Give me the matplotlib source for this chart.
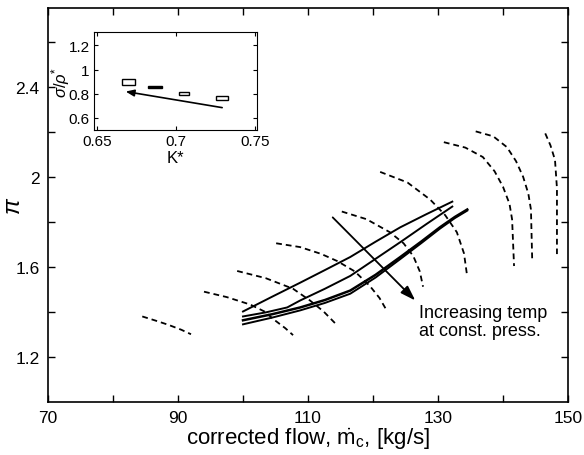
import matplotlib
matplotlib.use("Agg")
import matplotlib.pyplot as plt
from matplotlib.patches import Rectangle

plt.rcParams['font.family'] = ['Liberation Sans', 'DejaVu Sans']
plt.rcParams['mathtext.fontset'] = 'custom'
plt.rcParams['mathtext.rm'] = 'Liberation Sans'
plt.rcParams['mathtext.it'] = 'Liberation Sans:italic'

# ---- main chart data: dashed speed lines (corrected flow, pressure ratio) ----
speed1_x = [84.5, 86.5, 88.5, 90.5, 92.0]
speed1_y = [1.380, 1.362, 1.343, 1.321, 1.301]
speed2_x = [94.0, 97.5, 101.1, 103.3, 104.9, 106.5, 107.7]
speed2_y = [1.490, 1.466, 1.433, 1.402, 1.363, 1.328, 1.297]
speed3_x = [99.1, 103.5, 107.7, 110.3, 112.4, 114.2]
speed3_y = [1.582, 1.550, 1.503, 1.451, 1.402, 1.349]
speed4_x = [105.1, 108.8, 112.0, 114.5, 117.2, 119.5, 121.0, 122.2]
speed4_y = [1.705, 1.688, 1.658, 1.626, 1.580, 1.516, 1.462, 1.402]
speed5_x = [115.2, 119.0, 122.6, 124.7, 126.2, 127.2, 127.7]
speed5_y = [1.846, 1.812, 1.754, 1.705, 1.648, 1.580, 1.512]
speed6_x = [121.1, 125.3, 128.8, 131.1, 132.9, 134.0, 134.5]
speed6_y = [2.022, 1.975, 1.899, 1.830, 1.754, 1.660, 1.556]
speed7_x = [130.9, 134.2, 136.9, 138.7, 140.0, 141.0, 141.4, 141.7]
speed7_y = [2.154, 2.130, 2.088, 2.025, 1.956, 1.880, 1.811, 1.604]
speed8_x = [135.8, 138.5, 140.6, 142.0, 143.1, 143.9, 144.3, 144.5]
speed8_y = [2.202, 2.180, 2.132, 2.070, 2.000, 1.925, 1.855, 1.622]
speed9_x = [146.5, 147.3, 148.0, 148.3, 148.3]
speed9_y = [2.193, 2.140, 2.075, 1.950, 1.657]

# ---- solid operating lines ----
opA_x = [100.0, 104.5, 108.8, 112.6, 116.5, 120.4, 124.2, 128.2, 132.2]
opA_y = [1.402, 1.468, 1.530, 1.586, 1.644, 1.712, 1.776, 1.834, 1.890]
opB_x = [100.0, 103.5, 106.8, 108.8, 112.6, 116.5, 120.4, 124.2, 128.2, 132.2]
opB_y = [1.380, 1.398, 1.420, 1.451, 1.503, 1.560, 1.636, 1.710, 1.790, 1.868]
opC_x = [100.0, 104.5, 108.8, 112.6, 116.5, 120.4, 124.2, 127.4, 130.3, 132.6, 134.5]
opC_y = [1.363, 1.390, 1.420, 1.453, 1.495, 1.565, 1.644, 1.712, 1.776, 1.822, 1.855]
opD_x = [100.0, 104.5, 108.8, 112.6, 116.5, 120.4, 124.2, 127.4, 130.3, 132.6, 134.5]
opD_y = [1.345, 1.375, 1.407, 1.440, 1.481, 1.553, 1.635, 1.705, 1.770, 1.817, 1.850]

# arrow (tail, head)
arrow_tail = (113.8, 1.820)
arrow_head = (126.5, 1.451)

# ---- inset data: boxes (K* centre, sigma/rho* centre, width, height) ----
box_k = [0.670, 0.6865, 0.705, 0.729]
box_s = [0.895, 0.855, 0.800, 0.765]
box_w = [0.008, 0.009, 0.006, 0.008]
box_h = [0.050, 0.015, 0.025, 0.030]
box_fill = ['white', 'black', 'white', 'white']
inset_arrow_tail = (0.729, 0.685)
inset_arrow_head = (0.668, 0.818)

fig = plt.figure(figsize=(5.84, 4.56), dpi=100)
ax = fig.add_axes([0.0822, 0.1162, 0.8904, 0.8641])

dash = (0, (3.2, 2.2))
for xs, ys in [(speed1_x, speed1_y), (speed2_x, speed2_y), (speed3_x, speed3_y),
               (speed4_x, speed4_y), (speed5_x, speed5_y), (speed6_x, speed6_y),
               (speed7_x, speed7_y), (speed8_x, speed8_y), (speed9_x, speed9_y)]:
    ax.plot(xs, ys, color='black', lw=1.3, linestyle=dash)

ax.plot(opA_x, opA_y, color='black', lw=1.4)
ax.plot(opB_x, opB_y, color='black', lw=1.4)
ax.plot(opC_x, opC_y, color='black', lw=1.8)
ax.plot(opD_x, opD_y, color='black', lw=1.4)

ax.annotate('', xy=arrow_head, xytext=arrow_tail,
            arrowprops=dict(arrowstyle='-|>,head_length=0.9,head_width=0.3',
                            color='black', lw=1.3, shrinkA=0, shrinkB=0))
ax.text(127.0, 1.435, 'Increasing temp\nat const. press.', fontsize=13,
        ha='left', va='top', linespacing=1.05)

ax.set_xlim(70, 150)
ax.set_ylim(1.0, 2.75)
ax.set_xticks([70, 80, 90, 100, 110, 120, 130, 140, 150])
ax.set_xticklabels(['70', '', '90', '', '110', '', '130', '', '150'])
ax.set_yticks([1.2, 1.4, 1.6, 1.8, 2.0, 2.2, 2.4, 2.6])
ax.set_yticklabels(['1.2', '', '1.6', '', '2', '', '2.4', ''])
ax.tick_params(direction='in', top=True, right=True, length=5, width=1,
               labelsize=12.5, pad=6)
for s in ax.spines.values():
    s.set_linewidth(1.2)
ax.set_xlabel(r'corrected flow, $\dot{\mathrm{m}}_{\mathrm{c}}$, [kg/s]', fontsize=16,
              labelpad=0)
ax.set_ylabel(r'$\pi$', fontsize=17)
ax.yaxis.set_label_coords(-0.045, 0.50)

# ---- inset ----
ins = fig.add_axes([0.161, 0.7127, 0.279, 0.2149])
for k, s, w, h, f in zip(box_k, box_s, box_w, box_h, box_fill):
    ins.add_patch(Rectangle((k - w / 2, s - h / 2), w, h, facecolor=f,
                            edgecolor='black', lw=1.0))
ins.annotate('', xy=inset_arrow_head, xytext=inset_arrow_tail,
             arrowprops=dict(arrowstyle='-|>,head_length=0.5,head_width=0.2',
                             color='black', lw=1.2, shrinkA=0, shrinkB=0))
ins.set_xlim(0.648, 0.751)
ins.set_ylim(0.5, 1.31)
ins.set_xticks([0.65, 0.7, 0.75])
ins.set_xticklabels(['0.65', '0.7', '0.75'])
ins.set_yticks([0.6, 0.8, 1.0, 1.2])
ins.set_yticklabels(['0.6', '0.8', '1', '1.2'])
ins.tick_params(direction='in', top=True, right=True, length=3, width=0.8,
                labelsize=11, pad=3)
ins.set_xlabel(r'K*', fontsize=12, labelpad=1)
ins.set_ylabel(r'$\sigma/\rho^{*}$', fontsize=12, labelpad=-2)

fig.savefig('out.png', dpi=100)
